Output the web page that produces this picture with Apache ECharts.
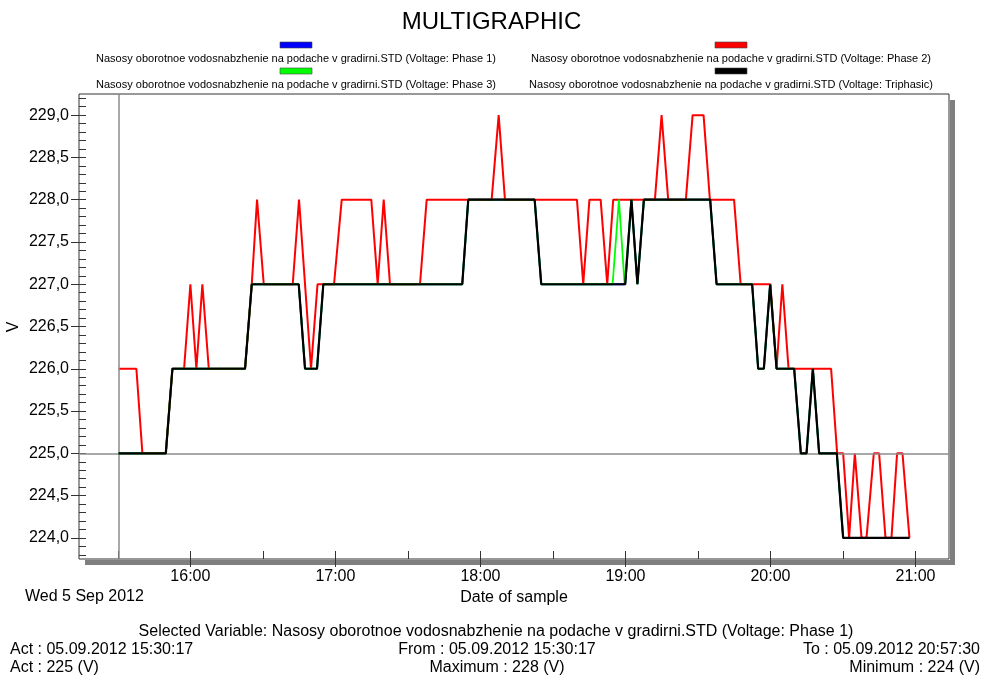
<!DOCTYPE html>
<html><head><meta charset="utf-8">
<script src="https://cdn.jsdelivr.net/npm/echarts@6/dist/echarts.min.js"></script>
<style>html,body{margin:0;padding:0;background:#fff}#c{width:983px;height:679px}</style>
</head><body><div id="c"></div>
<script>
// ---------- DATA ----------
const seriesNames = [
  'Nasosy oborotnoe vodosnabzhenie na podache v gradirni.STD (Voltage: Phase 1)',
  'Nasosy oborotnoe vodosnabzhenie na podache v gradirni.STD (Voltage: Phase 2)',
  'Nasosy oborotnoe vodosnabzhenie na podache v gradirni.STD (Voltage: Phase 3)',
  'Nasosy oborotnoe vodosnabzhenie na podache v gradirni.STD (Voltage: Triphasic)'
];
const seriesColors = ['#0000ff', '#ff0000', '#00ff00', '#000000'];

const phase1Times = ['15:30:17','15:49:50','15:52:34','16:22:37','16:25:24','16:44:50','16:47:26','16:52:24','16:55:00','17:52:29','17:54:58','18:22:26','18:25:10','18:59:54','19:02:28','19:04:57','19:07:38','19:35:03','19:37:42','19:52:25','19:54:55','19:57:16','19:59:52','20:02:31','20:09:48','20:12:34','20:14:55','20:17:32','20:20:08','20:27:27','20:30:04','20:57:30'];
const phase1Values = [225,225,226,226,227,227,226,226,227,227,228,228,227,227,228,227,228,228,227,227,226,226,227,226,226,225,225,226,225,225,224,224];

const phase2Times = ['15:30:17','15:37:40','15:40:09','15:49:50','15:52:34','15:57:24','16:00:00','16:02:29','16:04:58','16:07:37','16:22:37','16:25:24','16:27:35','16:30:21','16:42:21','16:44:57','16:49:55','16:52:36','16:59:26','17:02:37','17:14:51','17:17:30','17:19:59','17:22:35','17:35:00','17:37:46','18:04:39','18:07:33','18:10:09','18:39:56','18:42:32','18:45:06','18:49:44','18:52:28','18:54:56','19:12:11','19:14:57','19:17:41','19:25:00','19:27:47','19:32:19','19:34:56','19:44:56','19:47:40','19:59:57','20:02:31','20:04:55','20:07:29','20:25:05','20:27:35','20:30:04','20:32:32','20:34:54','20:37:40','20:39:44','20:42:45','20:44:57','20:47:35','20:50:04','20:52:23','20:54:37','20:57:30'];
const phase2Values = [226,226,225,225,226,226,227,226,227,226,226,227,228,227,227,228,226,227,227,228,228,227,228,227,227,228,228,229,228,228,227,228,228,227,228,228,229,228,228,229,229,228,228,227,227,226,227,226,226,225,225,224,225,224,224,225,225,224,224,225,225,224];

const phase3Times = ['15:30:17','15:49:50','15:52:34','16:22:37','16:25:24','16:44:50','16:47:26','16:52:24','16:55:00','17:52:29','17:54:58','18:22:26','18:25:10','18:54:41','18:57:18','18:59:39','18:59:54','19:02:28','19:04:57','19:07:38','19:35:03','19:37:42','19:52:25','19:54:55','19:57:16','19:59:52','20:02:31','20:09:48','20:12:34','20:14:55','20:17:32','20:20:08','20:27:27','20:30:04','20:57:30'];
const phase3Values = [225,225,226,226,227,227,226,226,227,227,228,228,227,227,228,227,227,228,227,228,228,227,227,226,226,227,226,226,225,225,226,225,225,224,224];

const triphasicTimes = ['15:30:17','15:49:50','15:52:34','16:22:37','16:25:24','16:44:50','16:47:26','16:52:24','16:55:00','17:52:29','17:54:58','18:22:26','18:25:10','18:59:54','19:02:28','19:04:57','19:07:38','19:35:03','19:37:42','19:52:25','19:54:55','19:57:16','19:59:52','20:02:31','20:09:48','20:12:34','20:14:55','20:17:32','20:20:08','20:27:27','20:30:04','20:57:30'];
const triphasicValues = [225,225,226,226,227,227,226,226,227,227,228,228,227,227,228,227,228,228,227,227,226,226,227,226,226,225,225,226,225,225,224,224];

const hourTickLabels = ['16:00','17:00','18:00','19:00','20:00','21:00'];
const halfHourTicks = ['15:30','16:30','17:30','18:30','19:30','20:30'];
const yTickValues = [224, 224.5, 225, 225.5, 226, 226.5, 227, 227.5, 228, 228.5, 229];
const dateLabel = 'Wed 5 Sep 2012';
const sampleDate = '05.09.2012';
const unit = 'V';

// ---------- HELPERS ----------
function toSec(s) { const p = s.split(':').map(Number); return p[0]*3600 + p[1]*60 + (p[2]||0); }
function fmtHM(sec) { const h = Math.floor(sec/3600), m = Math.round((sec%3600)/60); return String(h).padStart(2,'0')+':'+String(m).padStart(2,'0'); }
function pairs(times, vals) { return times.map((t, i) => [toSec(t), vals[i]]); }

const allSeries = [
  pairs(phase1Times, phase1Values),
  pairs(phase2Times, phase2Values),
  pairs(phase3Times, phase3Values),
  pairs(triphasicTimes, triphasicValues)
];
const tStart = toSec(phase1Times[0]);
const tEnd = toSec(phase1Times[phase1Times.length-1]);
const pad = (tEnd - tStart) * 0.05;
const xMin = tStart - pad, xMax = tEnd + pad;
const hourSecs = hourTickLabels.map(toSec);
const halfSecs = halfHourTicks.map(toSec);
const minorY = [];
for (let v = 223.8; v <= 229.21; v += 0.1) minorY.push(Math.round(v*10)/10);
const actVal = phase1Values[0];
const maxVal = Math.max(...phase1Values);
const minVal = Math.min(...phase1Values);

const FONT = '"Liberation Sans", Arial, sans-serif';
const GL = 79, GT = 94, GW = 870, GH = 465;

const chart = echarts.init(document.getElementById('c'), null, {renderer: 'canvas'});

// legend as graphics
const legendGraphics = [];
const legCols = [296, 731];
const legRows = [{sw: 42, tx: 58.5}, {sw: 68, tx: 84.5}];
seriesNames.forEach((n, i) => {
  const cx = legCols[i % 2], r = legRows[Math.floor(i / 2)];
  legendGraphics.push({type: 'rect', shape: {x: cx - 16, y: r.sw, width: 32, height: 6},
    style: {fill: seriesColors[i], stroke: '#444', lineWidth: 0.6}, z: 10});
  legendGraphics.push({type: 'text', x: cx, y: r.tx,
    style: {text: n, font: '11px ' + FONT, fill: '#000', align: 'center', verticalAlign: 'middle'}, z: 10});
});

const texts = [
  {x: 25, y: 597, t: dateLabel, a: 'left'},
  {x: 496, y: 632, t: 'Selected Variable: ' + seriesNames[0], a: 'center'},
  {x: 10, y: 650, t: 'Act : ' + sampleDate + ' ' + phase1Times[0], a: 'left'},
  {x: 497, y: 650, t: 'From : ' + sampleDate + ' ' + phase1Times[0], a: 'center'},
  {x: 980, y: 650, t: 'To : ' + sampleDate + ' ' + phase1Times[phase1Times.length-1], a: 'right'},
  {x: 10, y: 668, t: 'Act : ' + actVal + ' (' + unit + ')', a: 'left'},
  {x: 497, y: 668, t: 'Maximum : ' + maxVal + ' (' + unit + ')', a: 'center'},
  {x: 980, y: 668, t: 'Minimum : ' + minVal + ' (' + unit + ')', a: 'right'},
  {x: 14, y: 327, t: unit, a: 'center', rot: Math.PI / 2}
];
const textGraphics = texts.map(o => ({type: 'text', x: o.x, y: o.y, rotation: o.rot || 0,
  style: {text: o.t, font: '16px ' + FONT, fill: '#000', align: o.a, verticalAlign: 'middle'}}));

const shadowGraphics = [
  {type: 'rect', shape: {x: GL + GW + 1, y: GT + 6, width: 5, height: GH}, style: {fill: '#7f7f7f'}, z: -1},
  {type: 'rect', shape: {x: GL + 6, y: GT + GH + 1, width: GW, height: 5}, style: {fill: '#7f7f7f'}, z: -1}
];

const lineWidths = [1.8, 2, 1.8, 2.2];
const lineSeries = allSeries.map((d, i) => ({
  name: seriesNames[i], type: 'line', data: d, showSymbol: false, symbol: 'none',
  lineStyle: {color: seriesColors[i], width: lineWidths[i]}, itemStyle: {color: seriesColors[i]},
  animation: false, z: 3 + i
}));
lineSeries[0].markLine = {
  silent: true, symbol: 'none', animation: false,
  lineStyle: {color: '#8c8c8c', type: 'solid', width: 1.5},
  label: {show: false},
  data: [{xAxis: tStart}, {yAxis: actVal}]
};

chart.setOption({
  animation: false,
  backgroundColor: '#fff',
  title: {text: 'MULTIGRAPHIC', left: 'center', top: 5,
    textStyle: {fontFamily: FONT, fontSize: 24, fontWeight: 'normal', color: '#000'}},
  grid: {left: GL, top: GT, width: GW, height: GH, show: true, borderColor: '#333', borderWidth: 1,
    backgroundColor: '#fff', containLabel: false, outerBoundsMode: 'none', z: 0},
  xAxis: [
    {type: 'value', min: xMin, max: xMax, position: 'bottom',
      name: 'Date of sample', nameLocation: 'middle', nameGap: 30,
      nameTextStyle: {fontFamily: FONT, fontSize: 16, color: '#000'},
      axisLine: {show: false}, splitLine: {show: false},
      axisTick: {show: true, inside: false, length: 8, customValues: hourSecs, lineStyle: {color: '#333'}},
      axisLabel: {show: true, customValues: hourSecs, margin: 10, formatter: v => fmtHM(v),
        fontFamily: FONT, fontSize: 16, color: '#000'}},
    {type: 'value', min: xMin, max: xMax, position: 'bottom',
      axisLine: {show: false}, splitLine: {show: false}, axisLabel: {show: false},
      axisTick: {show: true, inside: true, length: 8, customValues: hourSecs.concat(halfSecs), lineStyle: {color: '#333'}}}
  ],
  yAxis: [
    {type: 'value', min: 223.75, max: 229.25, position: 'left',
      axisLine: {show: false}, splitLine: {show: false},
      axisTick: {show: true, inside: false, length: 8, customValues: yTickValues, lineStyle: {color: '#333'}},
      axisLabel: {show: true, customValues: yTickValues, margin: 10,
        formatter: v => v.toFixed(1).replace('.', ','), fontFamily: FONT, fontSize: 16, color: '#000'}},
    {type: 'value', min: 223.75, max: 229.25, position: 'left',
      axisLine: {show: false}, splitLine: {show: false}, axisLabel: {show: false},
      axisTick: {show: true, inside: true, length: 7, customValues: minorY, lineStyle: {color: '#333'}}}
  ],
  graphic: shadowGraphics.concat(legendGraphics, textGraphics),
  series: lineSeries
});
</script></body></html>
